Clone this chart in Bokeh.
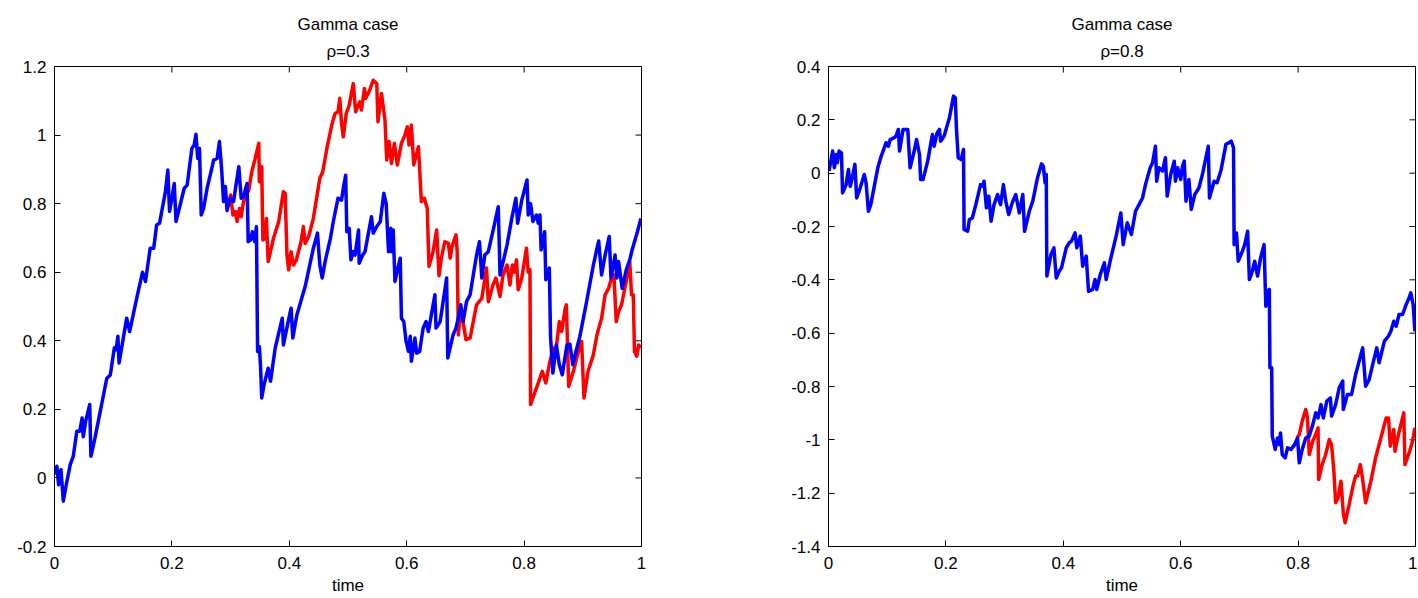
import math
from bokeh.plotting import figure
from bokeh.models import FixedTicker, Range1d, Title
from bokeh.layouts import row
from bokeh.embed import file_html
from bokeh.resources import INLINE

# ---------------- data ----------------
TITLE_MAIN = "Gamma case"
RHO_LEFT = "ρ=0.3"
RHO_RIGHT = "ρ=0.8"
X_LABEL = "time"

X_TICKS = [0, 0.2, 0.4, 0.6, 0.8, 1]
X_TICK_LABELS = ["0", "0.2", "0.4", "0.6", "0.8", "1"]

LEFT_Y_TICKS = [-0.2, 0, 0.2, 0.4, 0.6, 0.8, 1, 1.2]
LEFT_Y_TICK_LABELS = ["-0.2", "0", "0.2", "0.4", "0.6", "0.8", "1", "1.2"]
RIGHT_Y_TICKS = [-1.4, -1.2, -1, -0.8, -0.6, -0.4, -0.2, 0, 0.2, 0.4]
RIGHT_Y_TICK_LABELS = ["-1.4", "-1.2", "-1", "-0.8", "-0.6",
                       "-0.4", "-0.2", "0", "0.2", "0.4"]

LEFT_BLUE = [
    (0.001, 0.01), (0.004, 0.034), (0.007, -0.02), (0.011, 0.024), (0.013, -0.02),
    (0.015, -0.068), (0.02, -0.02), (0.027, 0.04), (0.032, 0.063), (0.038, 0.136),
    (0.043, 0.136), (0.047, 0.175), (0.049, 0.12), (0.053, 0.165), (0.06, 0.214),
    (0.062, 0.063), (0.069, 0.117), (0.089, 0.29), (0.095, 0.30), (0.102, 0.38),
    (0.105, 0.374), (0.108, 0.413), (0.110, 0.335), (0.123, 0.466), (0.128, 0.427),
    (0.14, 0.524), (0.15, 0.60), (0.155, 0.573), (0.163, 0.67), (0.169, 0.67),
    (0.174, 0.738), (0.179, 0.743), (0.189, 0.835), (0.193, 0.898), (0.196, 0.777),
    (0.2, 0.816), (0.204, 0.859), (0.207, 0.748), (0.214, 0.796), (0.221, 0.845),
    (0.226, 0.854), (0.234, 0.961), (0.238, 0.971), (0.241, 1.002), (0.244, 0.932),
    (0.247, 0.961), (0.25, 0.767), (0.254, 0.786), (0.26, 0.845), (0.268, 0.903),
    (0.271, 0.927), (0.277, 0.932), (0.281, 0.981), (0.285, 0.893), (0.288, 0.806),
    (0.291, 0.85), (0.294, 0.78), (0.299, 0.816), (0.305, 0.806), (0.314, 0.908),
    (0.318, 0.816), (0.322, 0.82), (0.328, 0.859), (0.33, 0.689), (0.334, 0.694),
    (0.337, 0.718), (0.341, 0.689), (0.344, 0.733), (0.346, 0.369), (0.349, 0.383),
    (0.351, 0.325), (0.353, 0.233), (0.357, 0.272), (0.364, 0.32), (0.368, 0.282),
    (0.376, 0.379), (0.388, 0.466), (0.39, 0.388), (0.397, 0.447), (0.403, 0.495),
    (0.406, 0.408), (0.413, 0.476), (0.427, 0.558), (0.441, 0.67), (0.448, 0.714),
    (0.452, 0.621), (0.456, 0.583), (0.461, 0.631), (0.47, 0.699), (0.475, 0.748),
    (0.483, 0.816), (0.489, 0.81), (0.492, 0.845), (0.496, 0.883), (0.498, 0.718),
    (0.502, 0.728), (0.505, 0.636), (0.509, 0.66), (0.512, 0.65), (0.518, 0.723),
    (0.519, 0.626), (0.525, 0.65), (0.529, 0.66), (0.54, 0.762), (0.543, 0.714),
    (0.549, 0.733), (0.555, 0.748), (0.561, 0.83), (0.565, 0.80), (0.569, 0.66),
    (0.573, 0.728), (0.574, 0.66), (0.577, 0.723), (0.58, 0.573), (0.585, 0.612),
    (0.589, 0.641), (0.591, 0.466), (0.595, 0.456), (0.599, 0.398), (0.603, 0.369),
    (0.606, 0.413), (0.608, 0.34), (0.614, 0.408), (0.617, 0.364), (0.622, 0.369),
    (0.628, 0.437), (0.633, 0.456), (0.637, 0.427), (0.648, 0.534), (0.65, 0.437),
    (0.657, 0.456), (0.668, 0.583), (0.67, 0.35), (0.679, 0.417), (0.684, 0.437),
    (0.689, 0.476), (0.692, 0.505), (0.696, 0.456), (0.702, 0.515), (0.708, 0.534),
    (0.719, 0.65), (0.724, 0.689), (0.728, 0.583), (0.733, 0.65), (0.739, 0.66),
    (0.748, 0.728), (0.756, 0.791), (0.759, 0.592), (0.771, 0.68), (0.779, 0.757),
    (0.786, 0.816), (0.789, 0.743), (0.796, 0.81), (0.805, 0.869), (0.807, 0.767),
    (0.811, 0.80), (0.815, 0.748), (0.821, 0.767), (0.824, 0.743), (0.827, 0.767),
    (0.829, 0.665), (0.835, 0.718), (0.837, 0.578), (0.843, 0.612), (0.845, 0.413),
    (0.849, 0.306), (0.855, 0.388), (0.86, 0.33), (0.865, 0.301), (0.873, 0.388),
    (0.878, 0.39), (0.883, 0.33), (0.887, 0.36), (0.895, 0.413), (0.907, 0.519),
    (0.918, 0.621), (0.927, 0.691), (0.932, 0.592), (0.938, 0.65), (0.945, 0.704),
    (0.948, 0.583), (0.955, 0.65), (0.958, 0.583), (0.961, 0.631), (0.967, 0.553),
    (0.974, 0.607), (0.98, 0.636), (0.984, 0.665), (0.993, 0.718), (0.999, 0.757),
]

LEFT_RED = [
    (0.299, 0.816), (0.3, 0.825), (0.304, 0.767), (0.308, 0.777), (0.311, 0.748),
    (0.315, 0.786), (0.318, 0.762), (0.322, 0.806), (0.331, 0.84), (0.336, 0.893),
    (0.342, 0.932), (0.348, 0.976), (0.349, 0.864), (0.353, 0.908), (0.355, 0.694),
    (0.359, 0.699), (0.361, 0.757), (0.364, 0.631), (0.373, 0.699), (0.382, 0.748),
    (0.39, 0.835), (0.393, 0.83), (0.396, 0.65), (0.399, 0.607), (0.403, 0.66),
    (0.407, 0.621), (0.412, 0.636), (0.42, 0.689), (0.424, 0.733), (0.427, 0.684),
    (0.433, 0.704), (0.441, 0.757), (0.452, 0.874), (0.457, 0.893), (0.464, 0.961),
    (0.473, 1.034), (0.478, 1.063), (0.483, 1.068), (0.486, 1.107), (0.489, 1.034),
    (0.492, 0.995), (0.497, 1.063), (0.502, 1.087), (0.509, 1.15), (0.513, 1.068),
    (0.52, 1.097), (0.523, 1.073), (0.528, 1.136), (0.53, 1.107), (0.537, 1.131),
    (0.543, 1.16), (0.549, 1.15), (0.551, 1.039), (0.557, 1.121), (0.563, 1.044),
    (0.566, 0.927), (0.57, 0.981), (0.574, 0.917), (0.579, 0.976), (0.584, 0.913),
    (0.591, 0.976), (0.597, 1.0), (0.601, 1.024), (0.604, 0.971), (0.608, 1.029),
    (0.612, 0.913), (0.62, 0.966), (0.625, 0.806), (0.63, 0.816), (0.635, 0.786),
    (0.638, 0.617), (0.645, 0.66), (0.651, 0.723), (0.655, 0.59), (0.659, 0.641),
    (0.665, 0.689), (0.671, 0.684), (0.674, 0.641), (0.678, 0.68), (0.684, 0.709),
    (0.686, 0.66), (0.688, 0.417), (0.692, 0.495), (0.696, 0.456), (0.701, 0.403),
    (0.708, 0.408), (0.719, 0.505), (0.728, 0.524), (0.736, 0.612), (0.739, 0.514),
    (0.747, 0.563), (0.752, 0.583), (0.759, 0.529), (0.764, 0.592), (0.771, 0.621),
    (0.776, 0.563), (0.78, 0.621), (0.784, 0.60), (0.787, 0.636), (0.79, 0.549),
    (0.796, 0.583), (0.804, 0.67), (0.807, 0.60), (0.81, 0.607), (0.811, 0.214),
    (0.817, 0.243), (0.821, 0.262), (0.826, 0.286), (0.831, 0.311), (0.837, 0.277),
    (0.844, 0.34), (0.85, 0.379), (0.854, 0.369), (0.86, 0.456), (0.864, 0.427),
    (0.87, 0.495), (0.872, 0.505), (0.876, 0.267), (0.884, 0.311), (0.891, 0.359),
    (0.898, 0.398), (0.902, 0.233), (0.909, 0.311), (0.918, 0.359), (0.924, 0.417),
    (0.932, 0.466), (0.938, 0.534), (0.944, 0.553), (0.949, 0.583), (0.953, 0.592),
    (0.957, 0.456), (0.961, 0.485), (0.966, 0.505), (0.975, 0.583), (0.98, 0.631),
    (0.983, 0.534), (0.986, 0.534), (0.988, 0.369), (0.992, 0.355), (0.995, 0.388),
    (0.999, 0.379),
]

RIGHT_BLUE = [
    (0.001, 0.008), (0.004, 0.045), (0.007, 0.083), (0.01, 0.02), (0.013, 0.07),
    (0.015, 0.039), (0.018, 0.083), (0.022, 0.076), (0.024, -0.074), (0.03, -0.043),
    (0.034, 0.014), (0.037, -0.049), (0.041, -0.011), (0.045, 0.033), (0.048, -0.093),
    (0.054, -0.055), (0.061, -0.005), (0.064, -0.036), (0.068, -0.143), (0.072, -0.118),
    (0.084, 0.02), (0.089, 0.058), (0.098, 0.114), (0.102, 0.101), (0.105, 0.126),
    (0.112, 0.133), (0.115, 0.139), (0.119, 0.164), (0.121, 0.083), (0.127, 0.164),
    (0.135, 0.164), (0.139, 0.02), (0.146, 0.083), (0.15, 0.126), (0.155, 0.07),
    (0.157, -0.024), (0.161, -0.024), (0.169, 0.045), (0.177, 0.145), (0.18, 0.101),
    (0.185, 0.151), (0.189, 0.164), (0.191, 0.12), (0.197, 0.139), (0.206, 0.208),
    (0.213, 0.289), (0.216, 0.283), (0.218, 0.164), (0.221, 0.058), (0.226, 0.051),
    (0.23, 0.089), (0.231, -0.211), (0.237, -0.218), (0.24, -0.174), (0.245, -0.168),
    (0.251, -0.118), (0.259, -0.043), (0.263, -0.049), (0.265, -0.03), (0.269, -0.13),
    (0.273, -0.086), (0.277, -0.18), (0.282, -0.118), (0.288, -0.08), (0.293, -0.118),
    (0.298, -0.043), (0.302, -0.105), (0.307, -0.155), (0.313, -0.111), (0.319, -0.08),
    (0.325, -0.149), (0.331, -0.08), (0.334, -0.218), (0.342, -0.143), (0.348, -0.105),
    (0.356, -0.018), (0.363, 0.035), (0.366, 0.026), (0.369, -0.036), (0.371, -0.005),
    (0.372, -0.386), (0.379, -0.305), (0.384, -0.28), (0.388, -0.393), (0.393, -0.368),
    (0.397, -0.355), (0.405, -0.28), (0.41, -0.261), (0.414, -0.255), (0.42, -0.224),
    (0.423, -0.28), (0.429, -0.236), (0.433, -0.349), (0.439, -0.311), (0.443, -0.443),
    (0.45, -0.436), (0.454, -0.399), (0.457, -0.436), (0.463, -0.38), (0.47, -0.336),
    (0.473, -0.399), (0.481, -0.318), (0.49, -0.236), (0.498, -0.149), (0.502, -0.268),
    (0.509, -0.186), (0.516, -0.23), (0.523, -0.143), (0.529, -0.118), (0.535, -0.093),
    (0.54, -0.043), (0.548, 0.02), (0.552, 0.039), (0.557, 0.101), (0.559, -0.03),
    (0.563, 0.02), (0.569, 0.008), (0.574, 0.058), (0.577, -0.086), (0.583, -0.005),
    (0.589, 0.045), (0.591, -0.03), (0.595, 0.02), (0.6, -0.024), (0.603, 0.026),
    (0.606, 0.045), (0.609, -0.105), (0.614, -0.024), (0.618, -0.136), (0.624, -0.08),
    (0.631, -0.055), (0.637, -0.005), (0.647, 0.101), (0.649, -0.093), (0.657, -0.03),
    (0.662, -0.036), (0.669, 0.014), (0.677, 0.108), (0.682, 0.114), (0.686, 0.12),
    (0.69, 0.095), (0.691, -0.268), (0.695, -0.224), (0.698, -0.33), (0.705, -0.293),
    (0.709, -0.268), (0.714, -0.218), (0.717, -0.399), (0.722, -0.368), (0.726, -0.33),
    (0.731, -0.386), (0.736, -0.318), (0.742, -0.268), (0.745, -0.499), (0.748, -0.443),
    (0.751, -0.436), (0.752, -0.73), (0.755, -0.73), (0.756, -0.986), (0.761, -1.036),
    (0.765, -0.993), (0.768, -1.018), (0.77, -0.974), (0.773, -1.055), (0.778, -1.068),
    (0.782, -1.03), (0.788, -1.036), (0.794, -1.018), (0.799, -0.993), (0.802, -1.086),
    (0.807, -1.036), (0.813, -0.993), (0.819, -0.986), (0.825, -0.943), (0.83, -0.899),
    (0.834, -0.918), (0.839, -0.868), (0.843, -0.918), (0.849, -0.855), (0.855, -0.843),
    (0.857, -0.911), (0.864, -0.868), (0.87, -0.805), (0.876, -0.78), (0.877, -0.886),
    (0.884, -0.83), (0.891, -0.83), (0.898, -0.755), (0.91, -0.655), (0.915, -0.799),
    (0.921, -0.774), (0.927, -0.718), (0.934, -0.655), (0.938, -0.711), (0.947, -0.63),
    (0.954, -0.611), (0.958, -0.593), (0.963, -0.555), (0.967, -0.574), (0.972, -0.53),
    (0.978, -0.53), (0.984, -0.493), (0.989, -0.468), (0.992, -0.449), (0.996, -0.493),
    (0.999, -0.593),
]

RIGHT_RED = [
    (0.798, -0.993), (0.802, -0.98), (0.807, -0.93), (0.813, -0.886), (0.816, -0.918),
    (0.819, -1.055), (0.825, -1.005), (0.83, -0.98), (0.834, -0.955), (0.835, -1.149),
    (0.841, -1.093), (0.847, -1.055), (0.853, -0.999), (0.857, -1.018), (0.861, -1.118),
    (0.864, -1.236), (0.868, -1.218), (0.873, -1.155), (0.877, -1.274), (0.88, -1.311),
    (0.887, -1.243), (0.894, -1.168), (0.898, -1.136), (0.901, -1.136), (0.906, -1.093),
    (0.91, -1.149), (0.915, -1.236), (0.924, -1.155), (0.932, -1.068), (0.941, -0.993),
    (0.95, -0.918), (0.954, -0.918), (0.957, -1.024), (0.963, -0.961), (0.965, -1.043),
    (0.971, -0.98), (0.98, -0.899), (0.982, -1.093), (0.99, -1.043), (0.995, -1.005),
    (0.999, -0.955),
]

BLUE = "#0000ff"
RED = "#ff0000"
FONT = "Liberation Sans"
FONT_SIZE = "17px"


def style_axis(ax, ticks, labels):
    ax.ticker = FixedTicker(ticks=ticks)
    ax.major_label_overrides = {t: l for t, l in zip(ticks, labels)}
    ax.major_tick_in = 6
    ax.major_tick_out = 0
    ax.minor_tick_in = 0
    ax.minor_tick_out = 0
    ax.axis_line_color = "black"
    ax.major_tick_line_color = "black"
    ax.major_label_text_font = FONT
    ax.major_label_text_color = "black"
    ax.major_label_text_font_size = FONT_SIZE


def make_title(text, standoff):
    return Title(text=text, align="center",
                 text_font=FONT, text_font_size=FONT_SIZE,
                 text_font_style="normal", text_color="black", standoff=standoff)


def make_panel(rho, blue, red, ylo, yhi, yticks, ylabels, width, border_left, border_right):
    p = figure(width=width, height=598, x_range=Range1d(0, 1), y_range=Range1d(ylo, yhi),
               output_backend="svg", toolbar_location=None, title=None,
               min_border_left=border_left, min_border_right=border_right,
               min_border_top=66, min_border_bottom=52)
    p.add_layout(make_title(rho, 12), "above")
    p.add_layout(make_title(TITLE_MAIN, 0), "above")
    p.grid.visible = False
    p.outline_line_color = "black"
    p.outline_line_alpha = 1

    style_axis(p.xaxis[0], X_TICKS, X_TICK_LABELS)
    style_axis(p.yaxis[0], yticks, ylabels)
    p.xaxis[0].major_label_standoff = 10
    p.yaxis[0].major_label_standoff = 8
    p.xaxis[0].axis_label = X_LABEL
    p.xaxis[0].axis_label_text_font = FONT
    p.xaxis[0].axis_label_text_font_size = FONT_SIZE
    p.xaxis[0].axis_label_text_font_style = "normal"
    p.xaxis[0].axis_label_text_color = "black"
    p.xaxis[0].axis_label_standoff = 4

    # inward ticks on the top and right edges of the box (clipped to the frame)
    p.scatter(X_TICKS, [yhi] * len(X_TICKS), marker="dash", size=12, angle=math.pi / 2,
              line_color="black", line_width=1)
    p.scatter([1] * len(yticks), yticks, marker="dash", size=12,
              line_color="black", line_width=1)

    rt, ry = zip(*red)
    bt, by = zip(*blue)
    p.line(list(rt), list(ry), line_color=RED, line_width=3.5, line_join="round")
    p.line(list(bt), list(by), line_color=BLUE, line_width=3.5, line_join="round")
    return p


left = make_panel(RHO_LEFT, LEFT_BLUE, LEFT_RED, -0.2, 1.2, LEFT_Y_TICKS, LEFT_Y_TICK_LABELS,
                  780, 54, 139)
right = make_panel(RHO_RIGHT, RIGHT_BLUE, RIGHT_RED, -1.4, 0.4, RIGHT_Y_TICKS,
                   RIGHT_Y_TICK_LABELS, 637, 48, 2)

layout = row(left, right)
open("out.html", "w").write(file_html(layout, INLINE))
